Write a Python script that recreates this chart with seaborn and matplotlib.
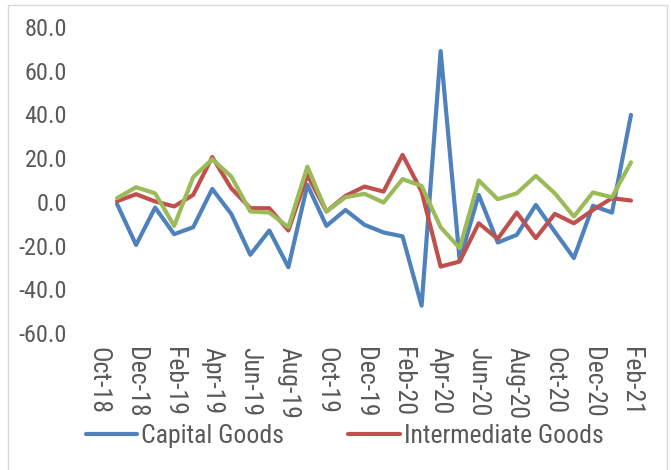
import numpy as np
import pandas as pd
import matplotlib
matplotlib.use("Agg")
import matplotlib.pyplot as plt
from matplotlib.lines import Line2D
from matplotlib.patches import Rectangle
from matplotlib import font_manager
import seaborn as sns

months = ['Oct-18', 'Nov-18', 'Dec-18', 'Jan-19', 'Feb-19', 'Mar-19', 'Apr-19', 'May-19',
          'Jun-19', 'Jul-19', 'Aug-19', 'Sep-19', 'Oct-19', 'Nov-19', 'Dec-19', 'Jan-20',
          'Feb-20', 'Mar-20', 'Apr-20', 'May-20', 'Jun-20', 'Jul-20', 'Aug-20', 'Sep-20',
          'Oct-20', 'Nov-20', 'Dec-20', 'Jan-21', 'Feb-21']

capital_goods = [np.nan, -1.0, -19.7, -2.6, -14.8, -11.6, 5.9, -5.5, -24.2, -13.1, -29.9, 7.8,
                 -11.0, -3.7, -10.5, -14.0, -15.8, -47.5, 69.0, -26.8, 3.2, -18.6, -15.1, -1.4,
                 -13.7, -25.7, -1.8, -4.9, 39.8]
intermediate_goods = [np.nan, 0.3, 3.5, 0.2, -2.1, 3.2, 20.5, 6.2, -2.9, -2.9, -13.1, 12.3,
                      -4.4, 2.7, 7.0, 4.7, 21.5, 4.7, -29.6, -27.3, -9.8, -16.9, -4.9, -16.6,
                      -5.5, -9.8, -3.7, 1.7, 0.6]
consumer_goods = [np.nan, 1.7, 6.7, 3.9, -11.0, 11.3, 19.5, 11.6, -4.4, -4.9, -11.6, 16.1,
                  -4.4, 2.1, 3.7, -0.3, 10.4, 7.3, -11.6, -21.2, 9.8, 1.2, 3.9, 11.9,
                  3.9, -6.7, 4.3, 2.1, 18.1]

series_names = ['Capital Goods', 'Intermediate Goods', 'Consumer Goods']
colors = ['#4F81BD', '#C0504D', '#9BBB59']
yticks = [-60, -40, -20, 0, 20, 40, 60, 80]

rows = []
for name, vals in zip(series_names, [capital_goods, intermediate_goods, consumer_goods]):
    for i, v in enumerate(vals):
        rows.append({'idx': i, 'month': months[i], 'value': v, 'series': name})
df = pd.DataFrame(rows).dropna()

sns.set_theme(style='white')
available = {f.name for f in font_manager.fontManager.ttflist}
condensed = None
for cand in ['Roboto Condensed', 'Open Sans Condensed', 'Liberation Sans Narrow',
             'Noto Sans Condensed', 'DejaVu Sans Condensed']:
    if cand in available:
        condensed = cand
        break
if condensed is not None:
    plt.rcParams['font.family'] = [condensed, 'DejaVu Sans']
    ytick_fs, xtick_fs, leg_fs = 17.5, 18.5, 18.5
else:
    plt.rcParams['font.family'] = ['Liberation Sans', 'DejaVu Sans']
    ytick_fs, xtick_fs, leg_fs = 15, 15.5, 16

W, H = 671, 470
fig = plt.figure(figsize=(W / 100, H / 100), dpi=100)
fig.patch.set_facecolor('white')
ax = fig.add_axes([88.5 / W, 1 - 333 / H, 552 / W, 306 / H])

sns.lineplot(data=df, x='idx', y='value', hue='series', hue_order=series_names,
             palette=colors, linewidth=3.0, sort=False, estimator=None,
             legend=False, ax=ax)

ax.set_xlim(-0.5, len(months) - 0.5)
ax.set_ylim(-60, 80)
ax.set_yticks(yticks)
ax.set_yticklabels([f'{t:.1f}' for t in yticks])
ax.set_xticks(range(0, len(months), 2))
ax.set_xticklabels(months[::2], rotation=-90)
for s in ax.spines.values():
    s.set_visible(False)
ax.set_xlabel('')
ax.set_ylabel('')
ax.tick_params(axis='y', length=0, pad=15.5, labelsize=ytick_fs, labelcolor='#595959')
ax.tick_params(axis='x', length=0, pad=10, labelsize=xtick_fs, labelcolor='#595959')
ax.grid(False)

handles = [Line2D([0], [0], color=colors[0], lw=3.0),
           Line2D([0], [0], color=colors[1], lw=3.0)]
leg = fig.legend(handles, series_names[:2], loc='center left',
                 bbox_to_anchor=(86 / W, 1 - 436 / H), ncol=2, frameon=False,
                 fontsize=leg_fs, handlelength=2.0, handletextpad=0.15,
                 columnspacing=2.5, borderpad=0, borderaxespad=0)
for t in leg.get_texts():
    t.set_color('#595959')

fig.add_artist(Rectangle((8 / W, -0.01), 659 / W, 1 - 5 / H + 0.01, transform=fig.transFigure,
                         fill=False, edgecolor='#D9D9D9', lw=1.0))

fig.savefig('out.png', dpi=100)
